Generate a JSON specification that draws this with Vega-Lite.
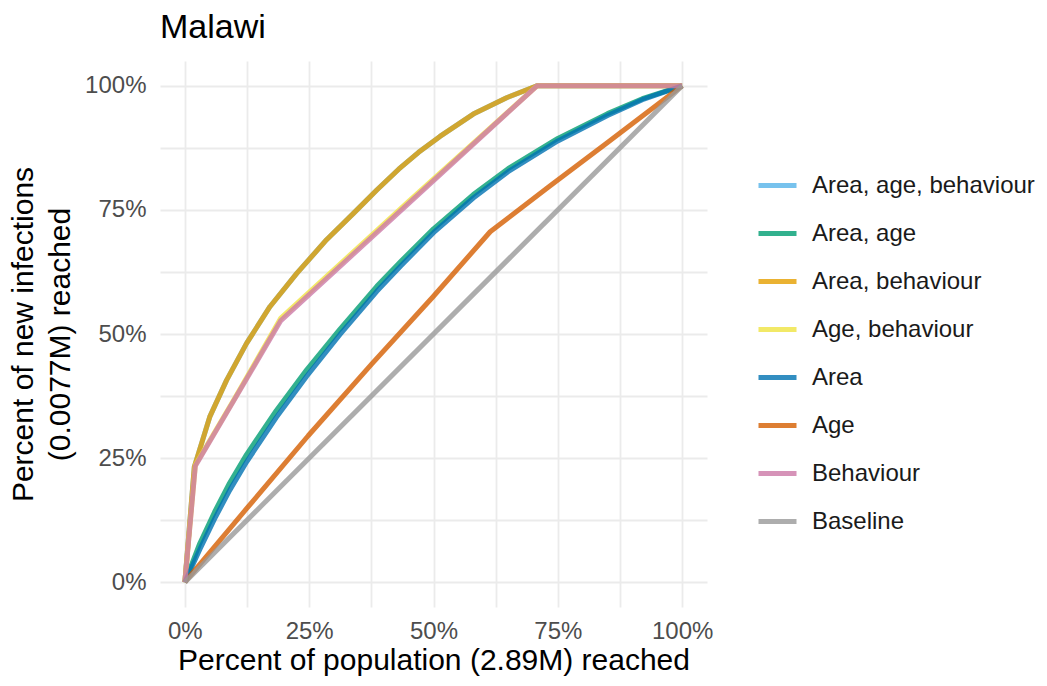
{
  "$schema": "https://vega.github.io/schema/vega-lite/v6.json",
  "width": 547,
  "height": 546,
  "autosize": "none",
  "padding": {"left": 160, "top": 61, "right": 340, "bottom": 79},
  "background": "white",
  "title": {"text": "Malawi", "anchor": "start", "frame": "group", "fontSize": 34, "font": "Liberation Sans", "fontWeight": "normal", "color": "#000000", "offset": 16},
  "config": {
    "view": {"stroke": null},
    "font": "Liberation Sans",
    "axis": {"domain": false, "ticks": false, "gridColor": "#ebebeb", "gridWidth": 1.8, "labelFont": "Liberation Sans", "labelFontSize": 24, "labelColor": "#4d4d4d", "titleFont": "Liberation Sans", "titleFontSize": 30, "titleFontWeight": "normal", "titleColor": "#000000"}
  },
  "data": {
    "values": [
      {"g": "Area, age, behaviour", "x": 0, "y": 0},
      {"g": "Area, age, behaviour", "x": 1.9, "y": 23.2},
      {"g": "Area, age, behaviour", "x": 5, "y": 33.3},
      {"g": "Area, age, behaviour", "x": 8.4, "y": 40.7},
      {"g": "Area, age, behaviour", "x": 12.4, "y": 48.1},
      {"g": "Area, age, behaviour", "x": 17.1, "y": 55.5},
      {"g": "Area, age, behaviour", "x": 22.5, "y": 62.2},
      {"g": "Area, age, behaviour", "x": 28.5, "y": 69},
      {"g": "Area, age, behaviour", "x": 33.9, "y": 74.3},
      {"g": "Area, age, behaviour", "x": 38.6, "y": 79},
      {"g": "Area, age, behaviour", "x": 43, "y": 83.2},
      {"g": "Area, age, behaviour", "x": 47, "y": 86.6},
      {"g": "Area, age, behaviour", "x": 51.3, "y": 89.8},
      {"g": "Area, age, behaviour", "x": 58, "y": 94.3},
      {"g": "Area, age, behaviour", "x": 64.7, "y": 97.6},
      {"g": "Area, age, behaviour", "x": 70.8, "y": 100},
      {"g": "Area, age, behaviour", "x": 100, "y": 100},

      {"g": "Area, age", "x": 0, "y": 0},
      {"g": "Area, age", "x": 3, "y": 7.8},
      {"g": "Area, age", "x": 6, "y": 14.2},
      {"g": "Area, age", "x": 9, "y": 20},
      {"g": "Area, age", "x": 12.4, "y": 25.7},
      {"g": "Area, age", "x": 18.4, "y": 34.6},
      {"g": "Area, age", "x": 24.5, "y": 42.8},
      {"g": "Area, age", "x": 31.2, "y": 51},
      {"g": "Area, age", "x": 38.6, "y": 59.6},
      {"g": "Area, age", "x": 43.5, "y": 64.7},
      {"g": "Area, age", "x": 50, "y": 71.2},
      {"g": "Area, age", "x": 58, "y": 78.1},
      {"g": "Area, age", "x": 65, "y": 83.3},
      {"g": "Area, age", "x": 75, "y": 89.4},
      {"g": "Area, age", "x": 85, "y": 94.4},
      {"g": "Area, age", "x": 92, "y": 97.4},
      {"g": "Area, age", "x": 100, "y": 100},

      {"g": "Area, behaviour", "x": 0, "y": 0},
      {"g": "Area, behaviour", "x": 1.9, "y": 23.2},
      {"g": "Area, behaviour", "x": 5, "y": 33.3},
      {"g": "Area, behaviour", "x": 8.4, "y": 40.7},
      {"g": "Area, behaviour", "x": 12.4, "y": 48.1},
      {"g": "Area, behaviour", "x": 17.1, "y": 55.5},
      {"g": "Area, behaviour", "x": 22.5, "y": 62.2},
      {"g": "Area, behaviour", "x": 28.5, "y": 69},
      {"g": "Area, behaviour", "x": 33.9, "y": 74.3},
      {"g": "Area, behaviour", "x": 38.6, "y": 79},
      {"g": "Area, behaviour", "x": 43, "y": 83.2},
      {"g": "Area, behaviour", "x": 47, "y": 86.6},
      {"g": "Area, behaviour", "x": 51.3, "y": 89.8},
      {"g": "Area, behaviour", "x": 58, "y": 94.3},
      {"g": "Area, behaviour", "x": 64.7, "y": 97.6},
      {"g": "Area, behaviour", "x": 70.8, "y": 100},
      {"g": "Area, behaviour", "x": 100, "y": 100},

      {"g": "Age, behaviour", "x": 0, "y": 0},
      {"g": "Age, behaviour", "x": 2.1, "y": 23.6},
      {"g": "Age, behaviour", "x": 10, "y": 37},
      {"g": "Age, behaviour", "x": 19.3, "y": 53.2},
      {"g": "Age, behaviour", "x": 45, "y": 76.7},
      {"g": "Age, behaviour", "x": 70.8, "y": 100},
      {"g": "Age, behaviour", "x": 100, "y": 100},

      {"g": "Area", "x": 0, "y": 0},
      {"g": "Area", "x": 3, "y": 6.6},
      {"g": "Area", "x": 6, "y": 12.8},
      {"g": "Area", "x": 9, "y": 18.5},
      {"g": "Area", "x": 12.4, "y": 24.2},
      {"g": "Area", "x": 18.4, "y": 33.2},
      {"g": "Area", "x": 24.5, "y": 41.5},
      {"g": "Area", "x": 31.2, "y": 49.9},
      {"g": "Area", "x": 38.6, "y": 58.6},
      {"g": "Area", "x": 43.5, "y": 63.8},
      {"g": "Area", "x": 50, "y": 70.4},
      {"g": "Area", "x": 58, "y": 77.4},
      {"g": "Area", "x": 65, "y": 82.7},
      {"g": "Area", "x": 75, "y": 88.9},
      {"g": "Area", "x": 85, "y": 94},
      {"g": "Area", "x": 92, "y": 97.2},
      {"g": "Area", "x": 100, "y": 100},

      {"g": "Age", "x": 0, "y": 0},
      {"g": "Age", "x": 12.4, "y": 14.8},
      {"g": "Age", "x": 24.8, "y": 29.5},
      {"g": "Age", "x": 37.6, "y": 44},
      {"g": "Age", "x": 50, "y": 57.6},
      {"g": "Age", "x": 61.4, "y": 70.6},
      {"g": "Age", "x": 73, "y": 79.5},
      {"g": "Age", "x": 85, "y": 88.6},
      {"g": "Age", "x": 100, "y": 100},

      {"g": "Behaviour", "x": 0, "y": 0},
      {"g": "Behaviour", "x": 2.1, "y": 23.4},
      {"g": "Behaviour", "x": 19.3, "y": 52.7},
      {"g": "Behaviour", "x": 70.8, "y": 100},
      {"g": "Behaviour", "x": 100, "y": 100},

      {"g": "Baseline", "x": 0, "y": 0},
      {"g": "Baseline", "x": 100, "y": 100}
    ]
  },
  "mark": {"type": "line", "strokeWidth": 5, "opacity": 0.8, "strokeJoin": "round"},
  "encoding": {
    "x": {
      "field": "x", "type": "quantitative",
      "scale": {"domain": [-5, 105], "nice": false, "zero": false},
      "axis": {"title": "Percent of population (2.89M) reached", "values": [0, 12.5, 25, 37.5, 50, 62.5, 75, 87.5, 100], "labelExpr": "datum.value % 25 == 0 ? datum.value + '%' : ''", "labelPadding": 12, "titlePadding": 2, "labelFlush": false, "labelOverlap": false}
    },
    "y": {
      "field": "y", "type": "quantitative",
      "scale": {"domain": [-5, 105], "nice": false, "zero": false},
      "axis": {"title": ["Percent of new infections", "(0.0077M) reached"], "titleLineHeight": 37, "values": [0, 12.5, 25, 37.5, 50, 62.5, 75, 87.5, 100], "labelExpr": "datum.value % 25 == 0 ? datum.value + '%' : ''", "labelPadding": 14, "titlePadding": 9, "labelFlush": false, "labelOverlap": false}
    },
    "color": {
      "field": "g", "type": "nominal",
      "scale": {
        "domain": ["Area, age, behaviour", "Area, age", "Area, behaviour", "Age, behaviour", "Area", "Age", "Behaviour", "Baseline"],
        "range": ["#56B4E9", "#009E73", "#E69F00", "#F0E442", "#0072B2", "#D55E00", "#CC79A7", "#999999"]
      },
      "legend": {"title": null, "orient": "none", "legendX": 596, "legendY": 103, "padding": 0, "symbolType": "stroke", "symbolSize": 1444, "symbolStrokeWidth": 5, "symbolOpacity": 0.8, "labelFontSize": 24, "labelFont": "Liberation Sans", "labelColor": "#1a1a1a", "labelOffset": 13, "labelLimit": 0, "rowPadding": 14}
    }
  }
}
